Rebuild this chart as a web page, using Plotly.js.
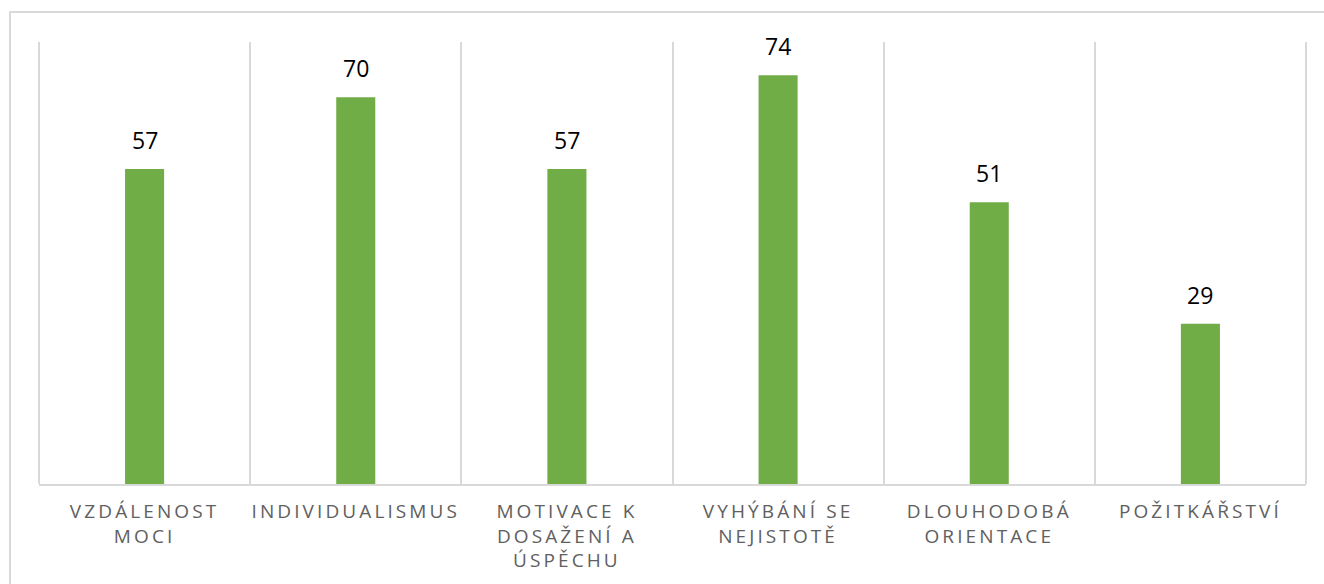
<!DOCTYPE html>
<html>
<head>
<meta charset="utf-8">
<script src="https://cdn.plot.ly/plotly-3.0.1.min.js"></script>
<style>
html,body{margin:0;padding:0;background:#fff;}
#chart{width:1324px;height:584px;}
#chart .xtick text{letter-spacing:3.1px;}
</style>
</head>
<body>
<div id="chart"></div>
<script>
const categories = ["VZDÁLENOST<br>MOCI", "INDIVIDUALISMUS", "MOTIVACE K<br>DOSAŽENÍ A<br>ÚSPĚCHU", "VYHÝBÁNÍ SE<br>NEJISTOTĚ", "DLOUHODOBÁ<br>ORIENTACE", "POŽITKÁŘSTVÍ"];
const values = [57, 70, 57, 74, 51, 29];

const plotL = 39, plotR = 1306, plotT = 42, plotB = 484, W = 1324, H = 584;
const pw = plotR - plotL, ph = plotB - plotT;

const trace = {
  type: 'bar',
  x: categories,
  y: values,
  marker: {color: '#70AD47'},
  hoverinfo: 'none'
};

const annotations = categories.map((c, i) => ({
  x: c, y: values[i], xref: 'x', yref: 'y',
  text: String(values[i]), showarrow: false,
  yanchor: 'bottom', yshift: 11,
  font: {family: 'Open Sans, sans-serif', size: 23, color: '#000000'}
}));

const layout = {
  width: W, height: H,
  margin: {l: plotL, r: W - plotR, t: plotT, b: H - plotB, pad: 0},
  paper_bgcolor: '#ffffff', plot_bgcolor: '#ffffff',
  bargap: 0.815,
  showlegend: false,
  xaxis: {
    type: 'category',
    range: [-0.5, 5.5],
    tickson: 'boundaries',
    showgrid: true, gridcolor: '#d9d9d9', gridwidth: 2,
    ticks: '', ticklen: 0,
    showline: true, linecolor: '#d9d9d9', linewidth: 2,
    tickfont: {family: 'Open Sans, sans-serif', size: 19, color: '#606060'},
    ticklabelstandoff: 9,
    fixedrange: true
  },
  yaxis: {
    range: [0, 80],
    showgrid: false, zeroline: false, showline: false,
    showticklabels: false, ticks: '',
    fixedrange: true
  },
  annotations: annotations,
  shapes: [{
    type: 'rect', xref: 'paper', yref: 'paper',
    x0: (10 - plotL) / pw, x1: (1340 - plotL) / pw,
    y0: (plotB - 620) / ph, y1: (plotB - 12) / ph,
    line: {color: '#d9d9d9', width: 2}, fillcolor: 'rgba(0,0,0,0)', layer: 'below'
  }, {
    type: 'line', xref: 'paper', yref: 'paper',
    x0: 0, x1: 0, y0: 0, y1: 1,
    line: {color: '#d9d9d9', width: 2}, layer: 'below'
  }, {
    type: 'line', xref: 'paper', yref: 'paper',
    x0: 1, x1: 1, y0: 0, y1: 1,
    line: {color: '#d9d9d9', width: 2}, layer: 'below'
  }]
};

Plotly.newPlot('chart', [trace], layout, {displayModeBar: false, staticPlot: true});
</script>
</body>
</html>
